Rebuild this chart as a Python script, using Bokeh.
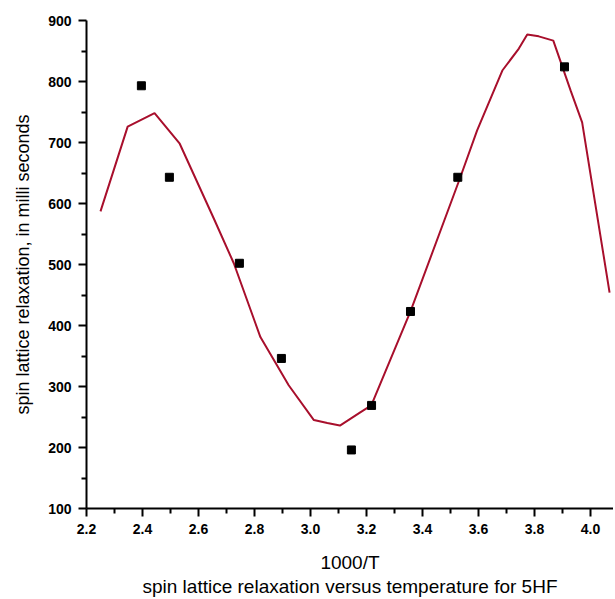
from bokeh.plotting import figure
from bokeh.models import Range1d, FixedTicker
from bokeh.embed import file_html
from bokeh.resources import INLINE

# measured data (squares)
meas_x = [2.396, 2.496, 2.746, 2.896, 3.146, 3.218, 3.357, 3.526, 3.907]
meas_y = [793, 643, 502, 346, 196, 269, 423, 643, 824]

# fitted curve (red line)
fit_x = [2.25, 2.347, 2.443, 2.533, 2.655, 2.726, 2.821, 2.922, 3.012, 3.06, 3.105,
         3.179, 3.217, 3.357, 3.535, 3.595, 3.685, 3.744, 3.774, 3.815, 3.867,
         3.929, 3.970, 4.068]
fit_y = [587, 726, 748, 698, 575, 502, 381, 302, 245, 240, 236,
         258, 269, 423, 643, 720, 818, 854, 877, 874, 867,
         785, 733, 454]

x_ticks = [2.2, 2.4, 2.6, 2.8, 3.0, 3.2, 3.4, 3.6, 3.8, 4.0]
y_ticks = [100, 200, 300, 400, 500, 600, 700, 800, 900]
x_title = "1000/T"
subtitle = "spin lattice relaxation versus temperature for 5HF"

p = figure(width=613, height=599, output_backend="svg", toolbar_location=None,
           x_range=Range1d(2.2, 4.082), y_range=Range1d(100, 900),
           min_border_left=86, min_border_right=0, min_border_top=20,
           min_border_bottom=91)
p.outline_line_color = None
p.grid.visible = False
p.background_fill_color = "white"

p.line(fit_x, fit_y, line_color="#a80f2c", line_width=2)
p.scatter(meas_x, meas_y, marker="square", size=8, fill_color="black", line_color="black")

font = "Liberation Sans"
for ax in (p.xaxis[0], p.yaxis[0]):
    ax.axis_line_width = 2
    ax.major_tick_line_width = 2
    ax.minor_tick_line_width = 2
    ax.major_tick_out = 8
    ax.major_tick_in = 0
    ax.minor_tick_out = 5
    ax.minor_tick_in = 0
    ax.major_label_text_font = font
    ax.major_label_text_font_style = "bold"
    ax.major_label_text_font_size = "14px"
    ax.axis_label_text_font = font
    ax.axis_label_text_font_style = "normal"
    ax.axis_label_text_font_size = "18px"
    ax.axis_label_text_color = "black"
    ax.major_label_text_color = "black"

p.xaxis[0].ticker = FixedTicker(ticks=x_ticks, minor_ticks=[2.3 + 0.2 * i for i in range(9)])
p.yaxis[0].ticker = FixedTicker(ticks=y_ticks, minor_ticks=[150 + 100 * i for i in range(8)])
p.xaxis[0].major_label_overrides = {v: f"{v:.1f}" for v in x_ticks}
p.xaxis[0].axis_label = x_title + "\n" + subtitle
p.xaxis[0].axis_label_text_font_size = "19px"
p.xaxis[0].axis_label_text_line_height = 1.15
p.xaxis[0].major_label_standoff = 7
p.xaxis[0].axis_label_standoff = 15
p.yaxis[0].axis_label = "spin lattice relaxation, in milli seconds"
p.yaxis[0].major_label_standoff = 7
p.yaxis[0].axis_label_standoff = 12

open("out.html", "w").write(file_html(p, INLINE))
